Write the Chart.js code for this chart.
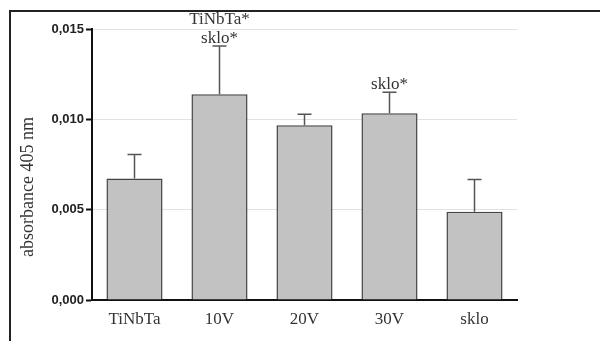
<!DOCTYPE html>
<html>
<head>
<meta charset="utf-8">
<script src="https://cdn.jsdelivr.net/npm/chart.js@4/dist/chart.umd.min.js"></script>
<style>
    html, body { margin:0; padding:0; background:#fff; }
    #wrap { position:relative; width:600px; height:341px; overflow:hidden; }
    #frame { position:absolute; left:9px; top:10px; width:600px; height:340px; border-top:2px solid #222; border-left:2px solid #222; }
    #chart { position:absolute; left:0; top:0; }
</style>
</head>
<body>
<div id="wrap">
    <div id="frame"></div>
    <canvas id="chart" width="600" height="341"></canvas>
</div>
<script>
const categories = ['TiNbTa', '10V', '20V', '30V', 'sklo'];
const means      = [0.00672, 0.01139, 0.00967, 0.01033, 0.00489];
const errors     = [0.00134, 0.00267, 0.00061, 0.00117, 0.00178];
const marks      = [[], ['TiNbTa*', 'sklo*'], [], ['sklo*'], []];
const yTicks     = [0, 0.005, 0.010, 0.015];
const yTitle     = 'absorbance 405 nm';

const SERIF = '"Liberation Serif", "DejaVu Serif", serif';

// error bars + significance labels above them
const errorBars = {
    id: 'errorBars',
    afterDatasetsDraw(chart) {
        const { ctx } = chart;
        const y    = chart.scales.y;
        const meta = chart.getDatasetMeta(0);
        ctx.save();
        meta.data.forEach((bar, i) => {
            const top = y.getPixelForValue(means[i] + errors[i]);
            ctx.strokeStyle = '#555';
            ctx.lineWidth   = 1.5;
            ctx.beginPath();
            ctx.moveTo(bar.x, bar.y);
            ctx.lineTo(bar.x, top);
            ctx.moveTo(bar.x - 7, top);
            ctx.lineTo(bar.x + 7, top);
            ctx.stroke();

            const lines = marks[i];
            ctx.fillStyle    = '#333';
            ctx.font         = '17px ' + SERIF;
            ctx.textAlign    = 'center';
            ctx.textBaseline = 'alphabetic';
            lines.forEach((t, k) => {
                ctx.fillText(t, bar.x, top - 3 - (lines.length - 1 - k) * 19);
            });
        });
        // y axis title
        ctx.translate(28, 187);
        ctx.rotate(-Math.PI / 2);
        ctx.fillStyle    = '#333';
        ctx.font         = '18px ' + SERIF;
        ctx.textAlign    = 'center';
        ctx.textBaseline = 'middle';
        ctx.fillText(yTitle, 0, 0);
        ctx.restore();
    }
};

new Chart(document.getElementById('chart'), {
    type: 'bar',
    data: {
        labels: categories,
        datasets: [{
            data: means,
            backgroundColor: '#c2c2c2',
            borderColor: '#444',
            borderWidth: 1.5,
            barPercentage: 0.66,
            categoryPercentage: 1
        }]
    },
    options: {
        responsive: false,
        animation: false,
        layout: { padding: { top: 29, right: 83, left: 0, bottom: 0 } },
        plugins: { legend: { display: false }, tooltip: { enabled: false } },
        scales: {
            x: {
                grid: { display: false },
                border: { color: '#111', width: 2 },
                ticks: { color: '#333', font: { family: SERIF, size: 17 }, padding: 1 },
                afterFit: s => { s.height = 41; }
            },
            y: {
                min: 0,
                max: 0.015,
                afterBuildTicks: s => { s.ticks = yTicks.map(v => ({ value: v })); },
                grid: { color: '#e2e2e2', lineWidth: 1, tickColor: '#111', tickWidth: 2, tickLength: 6 },
                border: { color: '#111', width: 2 },
                ticks: {
                    color: '#222',
                    padding: 2,
                    font: { family: '"Liberation Sans", Arial, sans-serif', size: 13, weight: 'bold' },
                    callback: v => v.toFixed(3).replace('.', ',')
                },
                afterFit: s => { s.width = 92; }
            }
        }
    },
    plugins: [errorBars]
});
</script>
</body>
</html>
